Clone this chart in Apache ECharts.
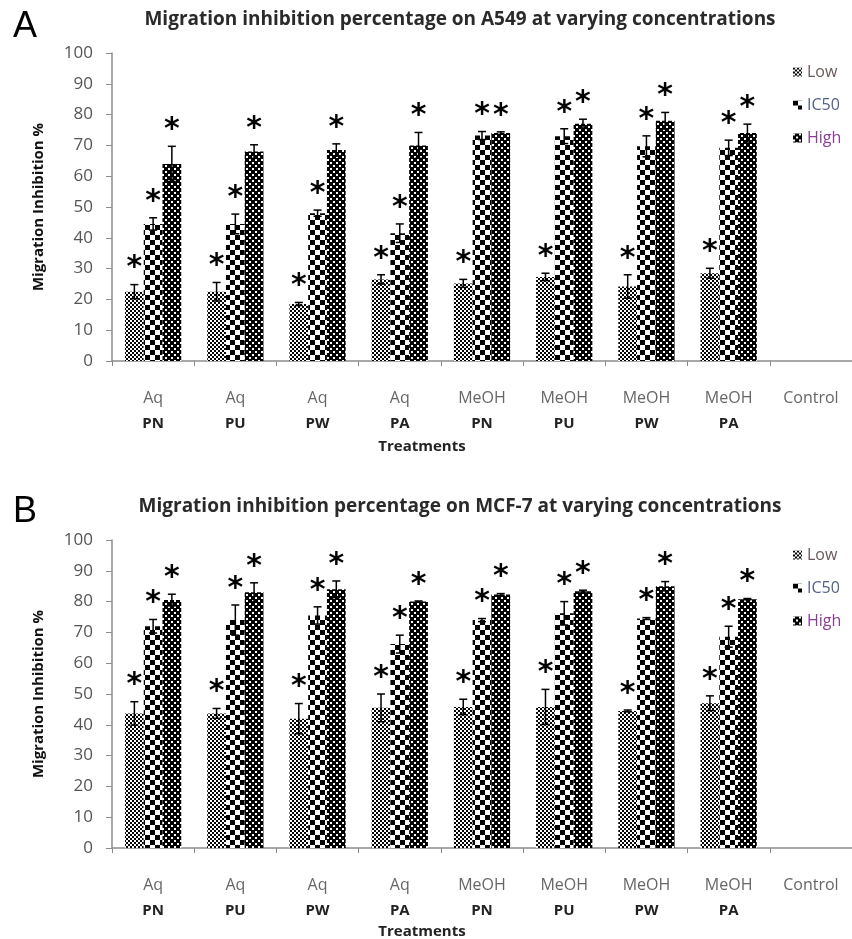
<!DOCTYPE html>
<html><head><meta charset="utf-8">
<script src="https://cdn.jsdelivr.net/npm/echarts@6/dist/echarts.min.js"></script>
<style>html,body{margin:0;padding:0;background:#fff}#c{width:852px;height:939px}</style>
</head><body><div id="c"></div>
<script>
const line1 = ['Aq','Aq','Aq','Aq','MeOH','MeOH','MeOH','MeOH','Control'];
const line2 = ['PN','PU','PW','PA','PN','PU','PW','PA',''];
const seriesNames = ['Low','IC50','High'];
const yTicks = [0,10,20,30,40,50,60,70,80,90,100];

const titleA = 'Migration inhibition percentage on A549 at varying concentrations';
const titleB = 'Migration inhibition percentage on MCF-7 at varying concentrations';

// Panel A (A549)
const lowA   = [22.5, 22.5, 18.5, 26.5, 25.2, 27.3, 24.2, 28.5, null];
const lowAErr= [2.3, 3.0, 0.5, 1.5, 1.3, 1.2, 3.8, 1.6, null];
const ic50A  = [44.5, 44.5, 48.0, 41.5, 73.2, 73.0, 69.7, 69.2, null];
const ic50AErr=[2.0, 3.2, 1.0, 3.0, 1.3, 2.4, 3.4, 2.5, null];
const highA  = [64.0, 68.0, 68.5, 70.0, 74.0, 77.0, 78.0, 74.0, null];
const highAErr=[5.7, 2.2, 2.0, 4.2, 0.4, 1.5, 2.7, 2.9, null];

// Panel B (MCF-7)
const lowB   = [43.7, 43.7, 42.0, 45.5, 45.8, 45.8, 44.5, 47.0, null];
const lowBErr= [3.8, 1.6, 4.9, 4.5, 2.5, 5.7, 0.3, 2.4, null];
const ic50B  = [72.0, 74.0, 75.5, 66.2, 74.0, 76.2, 74.5, 68.6, null];
const ic50BErr=[2.2, 4.9, 2.8, 2.9, 0.5, 3.8, 0.3, 3.4, null];
const highB  = [80.5, 83.0, 84.0, 80.0, 82.3, 83.4, 85.0, 80.8, null];
const highBErr=[1.9, 3.1, 2.7, 0.2, 0.3, 0.3, 1.5, 0.2, null];

const BAR_FRAC = 0.228;
const FONT = '"Open Sans", Lato, sans-serif';

function makePattern(size, draw){
  const c = document.createElement('canvas');
  c.width = size; c.height = size;
  const g = c.getContext('2d');
  g.fillStyle = '#fff'; g.fillRect(0,0,size,size);
  g.fillStyle = '#000';
  draw(g);
  return {image: c, repeat: 'repeat'};
}
const patLow = makePattern(4, g => { g.fillRect(0,0,2,2); g.fillRect(2,2,2,2); });
const patIC = makePattern(10, g => { g.fillRect(0,0,5,5); g.fillRect(5,5,5,5); });
const patHigh = makePattern(6, g => { g.fillRect(0,0,6,6); g.fillStyle='#fff'; g.fillRect(0,0,2,2); g.fillRect(3,3,2,2); });
const patterns = [patLow, patIC, patHigh];

const categories = line1.map((a,i)=> line2[i] ? a + '\n' + line2[i] : a);

function errData(vals){
  const out = [];
  vals.forEach((pair, s) => {
    pair[0].forEach((v,i) => { if (v != null) out.push([i, v, pair[1][i], s]); });
  });
  return out;
}
function renderErr(params, api){
  const cat = api.value(0), v = api.value(1), e = api.value(2), s = api.value(3);
  const bw = api.size([1,0])[0] * BAR_FRAC;
  const c = api.coord([cat, v]);
  const x = c[0] + (s-1)*bw;
  const top = api.coord([cat, v+e])[1];
  const bot = api.coord([cat, v-e])[1];
  const cap = 4;
  const st = {stroke:'#000', lineWidth:1.5};
  return {type:'group', children:[
    {type:'line', shape:{x1:x,y1:top,x2:x,y2:bot}, style:st},
    {type:'line', shape:{x1:x-cap,y1:top,x2:x+cap,y2:top}, style:st},
    {type:'line', shape:{x1:x-cap,y1:bot,x2:x+cap,y2:bot}, style:st},
    {type:'text', style:{text:'*', x:x, y:top-1, textAlign:'center', textVerticalAlign:'bottom', font:'bold 30px "DejaVu Sans"', fill:'#000'}}
  ]};
}

const grids = [
  {left:112, top:53, height:308, right:-10},
  {left:112, top:540, height:308, right:-10}
];
function xAxis(gi){
  return {type:'category', gridIndex:gi, data:categories,
    axisLine:{lineStyle:{color:'#8c8c8c', width:1.5}},
    axisTick:{show:true, length:5, lineStyle:{color:'#8c8c8c'}},
    axisLabel:{interval:0, margin:25, lineHeight:25, fontFamily:FONT, fontSize:16,
      formatter: (val, idx) => line2[idx] ? '{a|'+line1[idx]+'}\n{b|'+line2[idx]+'}' : '{a|'+line1[idx]+'}\n{b| }',
      rich:{a:{color:'#666', fontSize:16, fontFamily:FONT, lineHeight:25},
            b:{color:'#222', fontSize:15, fontWeight:'bold', fontFamily:FONT, lineHeight:25}}}
  };
}
function yAxis(gi){
  return {type:'value', gridIndex:gi, min:0, max:100, interval:10,
    name:'Migration Inhibition %', nameLocation:'middle', nameGap:66, nameRotate:90,
    nameTextStyle:{fontFamily:FONT, fontWeight:'bold', fontSize:15, color:'#111'},
    axisLine:{show:true, lineStyle:{color:'#8c8c8c', width:1.5}},
    axisTick:{show:true, length:6, lineStyle:{color:'#8c8c8c'}},
    splitLine:{show:false},
    axisLabel:{fontFamily:FONT, fontSize:17, color:'#555', margin:19,
      formatter: v => yTicks.includes(v) ? String(v) : ''}
  };
}
const series = [];
const dataA = [[lowA,lowAErr],[ic50A,ic50AErr],[highA,highAErr]];
const dataB = [[lowB,lowBErr],[ic50B,ic50BErr],[highB,highBErr]];
[dataA, dataB].forEach((d, gi) => {
  d.forEach((pair, s) => {
    series.push({type:'bar', name:seriesNames[s], xAxisIndex:gi, yAxisIndex:gi,
      data:pair[0], barWidth:(BAR_FRAC*100)+'%', barGap:'0%',
      itemStyle:{color:patterns[s]}, emphasis:{disabled:true}, silent:true});
  });
  series.push({type:'custom', xAxisIndex:gi, yAxisIndex:gi, data:errData(d),
    renderItem:renderErr, z:5, silent:true});
});

const legendColors = ['#6b5a5a', '#55608a', '#8a3f95'];
function legend(top){
  return {orient:'vertical', left:788, top:top, itemWidth:9, itemHeight:9, itemGap:17,
    icon:'rect', selectedMode:false,
    textStyle:{fontFamily:FONT, fontSize:16},
    data: seriesNames.map((n,i)=>({name:n, textStyle:{color:legendColors[i]}}))};
}

const chart = echarts.init(document.getElementById('c'));
chart.setOption({
  animation:false,
  title:[
    {text:titleA, left:455, top:5, textAlign:'center', textStyle:{fontFamily:FONT, fontWeight:'bold', fontSize:19, color:'#2a2a2a'}},
    {text:titleB, left:455, top:492, textAlign:'center', textStyle:{fontFamily:FONT, fontWeight:'bold', fontSize:19, color:'#2a2a2a'}},
    {text:'A', left:8, top:4, textStyle:{fontFamily:'"Liberation Sans", sans-serif', fontWeight:'normal', fontSize:36, color:'#000'}},
    {text:'B', left:8, top:489, textStyle:{fontFamily:'"Liberation Sans", sans-serif', fontWeight:'normal', fontSize:36, color:'#000'}},
    {text:'Treatments', left:417, top:434, textAlign:'center', textStyle:{fontFamily:FONT, fontWeight:'bold', fontSize:15, color:'#222'}},
    {text:'Treatments', left:417, top:919, textAlign:'center', textStyle:{fontFamily:FONT, fontWeight:'bold', fontSize:15, color:'#222'}}
  ],
  legend:[legend(59), legend(542)],
  grid:grids,
  xAxis:[xAxis(0), xAxis(1)],
  yAxis:[yAxis(0), yAxis(1)],
  series:series
});
</script></body></html>
